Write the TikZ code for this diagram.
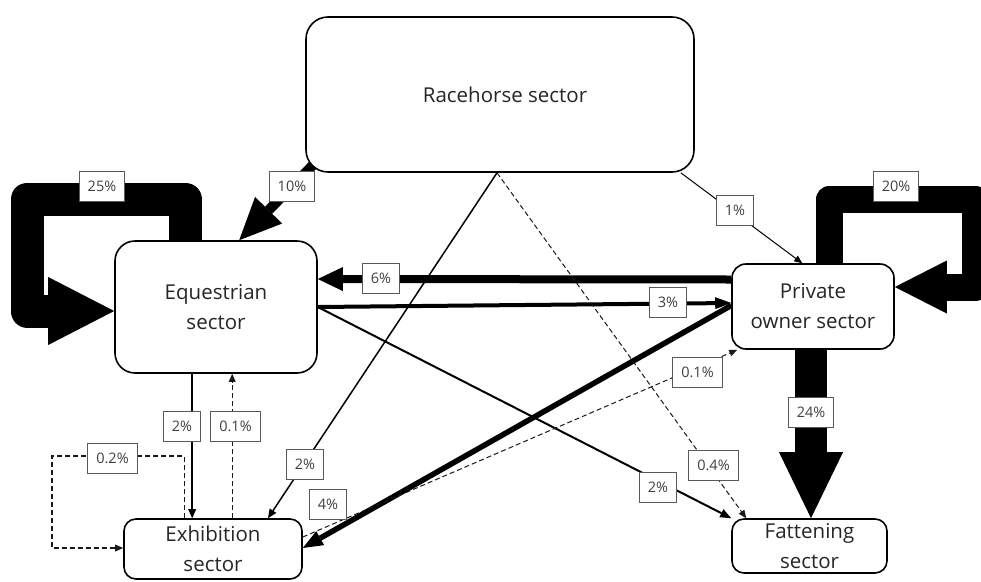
\documentclass[tikz,border=0pt]{standalone}
\usepackage{fontspec}
\setmainfont{Open Sans}
\usetikzlibrary{arrows.meta,calc,backgrounds}
\begin{document}
\begin{tikzpicture}[x=1pt,y=-1pt,
  sector/.style={draw=black, line width=1.6pt, fill=white, font=\fontsize{20.5}{30}\selectfont, text=black!85, align=center, inner sep=0pt},
  lbl/.style={draw=black!65, line width=0.8pt, fill=white, font=\fontsize{14.5}{17}\selectfont, text=black!75, inner xsep=8.5pt, inner ysep=0pt, minimum height=30pt},
  flow/.style={draw=black, line cap=butt},
  dflow/.style={draw=black!90, dash pattern=on 5pt off 3pt},
]
\useasboundingbox (0,0) rectangle (981,581);

% sectors
\node[sector, rounded corners=22pt, minimum width=388pt, minimum height=155pt] (race) at (500,94.5) {\hspace*{10pt}Racehorse sector};
\node[sector, rounded corners=20pt, minimum width=202pt, minimum height=132pt] (eq) at (216,307) {Equestrian\\sector};
\node[sector, rounded corners=14pt, minimum width=162pt, minimum height=85pt] (priv) at (813,306.5) {Private\\owner sector};
\node[sector, rounded corners=12pt, minimum width=178pt, minimum height=60pt] (exh) at (213,549) {Exhibition\\sector};
\node[sector, rounded corners=12pt, minimum width=155pt, minimum height=54pt] (fat) at (809.5,546) {Fattening\\sector};

\coordinate (c25) at (27,199);
\coordinate (c20) at (975.5,199.5);
\coordinate (c02) at (52,456);

\begin{pgfonlayer}{background}
% 25% self loop
\draw[flow, line width=33pt, line join=round, -{Triangle[length=66pt, width=68pt, line width=0pt]}]
  ($(eq.north west)+(71,0)$) |- (c25) |- ($(eq.west)+(0,4)$);
% 20% self loop
\draw[flow, line width=27pt, line join=round, -{Triangle[length=52pt, width=53pt, line width=0pt]}]
  ($(priv.north west)+(98,0)$) |- (c20) |- ($(priv.east)+(0,-19.5)$);
% 24%
\draw[flow, line width=32pt, -{Triangle[length=66pt, width=64pt, line width=0pt]}]
  ($(priv.south)+(-2,0)$) -- ($(fat.north)+(1.5,0)$);
% 10%
\draw[flow, line width=10pt, -{Triangle[length=42pt, width=38pt, line width=0pt]}]
  ($(race.south west)+(8,-8)$) -- ($(eq.north west)+(125,0)$);
% 1%
\draw[flow, line width=1pt, -{Triangle[length=8pt, width=7pt, line width=0pt]}]
  ($(race.south east)+(-14,0)$) -- ($(priv.north west)+(71,0)$);
% 6%
\draw[flow, line width=8pt, -{Triangle[length=25pt, width=24pt, line width=0pt]}]
  ($(priv.west)+(0,-27)$) -- ($(eq.east)+(0,-28)$);
% 3%
\draw[flow, line width=4pt, -{Triangle[length=16pt, width=12pt, line width=0pt]}]
  (eq.east) -- ($(priv.west)+(0,-3.5)$);
% 4%
\draw[flow, line width=5.5pt, -{Triangle[length=20pt, width=16pt, line width=0pt]}]
  ($(priv.west)+(0,-1)$) -- ($(exh.east)+(0,-1)$);
% 2% race -> exhibition
\draw[flow, line width=1.5pt, -{Triangle[length=9pt, width=8pt, line width=0pt]}]
  ($(race.south)+(-3,0)$) -- ($(exh.north)+(55,0)$);
% 0.4% race -> fattening
\draw[dflow, line width=1pt, -{Triangle[length=8pt, width=7pt, line width=0pt]}]
  ($(race.south)+(-3,0)$) -- ($(fat.north west)+(15,0)$);
% 2% equestrian -> fattening
\draw[flow, line width=2pt, -{Triangle[length=11pt, width=9pt, line width=0pt]}]
  (eq.east) -- (fat.north west);
% 0.1% exhibition -> private
\draw[dflow, line width=1pt, -{Triangle[length=8pt, width=7pt, line width=0pt]}]
  ($(exh.east)+(0,-12)$) -- ($(priv.south west)+(6,0)$);
% 2% equestrian -> exhibition
\draw[flow, line width=1.5pt, -{Triangle[length=9pt, width=8pt, line width=0pt]}]
  ($(eq.south west)+(78,0)$) -- ($(exh.north west)+(69,0)$);
% 0.1% exhibition -> equestrian
\draw[dflow, line width=1.2pt, -{Triangle[length=8pt, width=7pt, line width=0pt]}]
  ($(exh.north west)+(109,0)$) -- ($(eq.south west)+(118,0)$);
% 0.2% exhibition self loop
\draw[dflow, line width=1.2pt, -{Triangle[length=8pt, width=7pt, line width=0pt]}]
  ($(exh.north west)+(61,0)$) |- (c02) |- ($(exh.west)+(0,-1)$);
\end{pgfonlayer}

% labels
\node[lbl] (l25) at (102,186.5) {25\%};
\node[lbl] (l20) at (896,186.5) {20\%};
\node[lbl] (l10) at (292,186.5) {10\%};
\node[lbl] (l1) at (735,210.5) {1\%};
\node[lbl] (l6) at (381,278.5) {6\%};
\node[lbl] (l3) at (668,302.5) {3\%};
\node[lbl] (l4) at (328,504) {4\%};
\node[lbl] (l2a) at (305,464.5) {2\%};
\node[lbl] (l04) at (713.5,465.5) {0.4\%};
\node[lbl] (l2b) at (658,487.5) {2\%};
\node[lbl] (l01b) at (697.5,372) {0.1\%};
\node[lbl] (l2c) at (182,426) {2\%};
\node[lbl] (l01a) at (235.5,426) {0.1\%};
\node[lbl] (l02) at (112.5,458) {0.2\%};
\node[lbl] (l24) at (811,412) {24\%};
\end{tikzpicture}
\end{document}
